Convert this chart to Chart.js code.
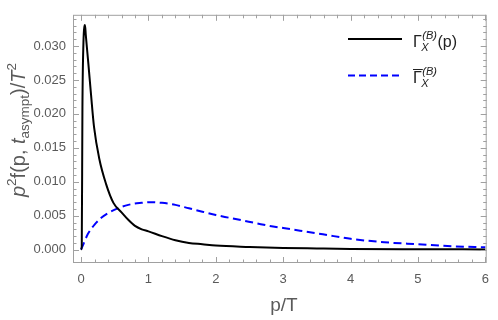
<!DOCTYPE html>
<html>
<head>
<meta charset="utf-8">
<script src="https://cdn.jsdelivr.net/npm/chart.js@4"></script>
<style>
  html, body { margin: 0; padding: 0; background: #fff; }
  #wrap { width: 498px; height: 320px; }
</style>
</head>
<body>
<div id="wrap"><canvas id="myChart"></canvas></div>
<script>
/* DATA */
var gammaP = [0, 0.01, 0.02, 0.035, 0.05, 0.058, 0.07, 0.108, 0.148, 0.192, 0.27, 0.37, 0.48, 0.6, 0.7, 0.8, 0.9, 1.0, 1.2, 1.4, 1.6, 1.8, 2.0, 2.5, 3.0, 3.5, 4.0, 5.0, 6.0];
var gammaVal = [0, 0.0005, 0.021, 0.0305, 0.0329, 0.0331, 0.0316, 0.0274, 0.0228, 0.0181, 0.0134, 0.0097, 0.0069, 0.0055, 0.0044, 0.0035, 0.0030, 0.0027, 0.0020, 0.0014, 0.0010, 0.0008, 0.0006, 0.0004, 0.00025, 0.00018, 0.00012, 0.00007, 0.00004];
var barP = [0, 0.05, 0.1, 0.2, 0.3, 0.4, 0.5, 0.6, 0.7, 0.8, 0.9, 1.0, 1.2, 1.4, 1.6, 1.8, 2.0, 2.2, 2.4, 2.6, 2.8, 3.0, 3.25, 3.5, 3.75, 4.0, 4.5, 5.0, 5.5, 6.0];
var barVal = [0, 0.0012, 0.0023, 0.0037, 0.0047, 0.0054, 0.0059, 0.0063, 0.0066, 0.0068, 0.0069, 0.0070, 0.0069, 0.0066, 0.0061, 0.0056, 0.0051, 0.0047, 0.0043, 0.0039, 0.0035, 0.0032, 0.0028, 0.0024, 0.0020, 0.0016, 0.0011, 0.0008, 0.0005, 0.00035];
var xTicks = [0, 1, 2, 3, 4, 5, 6];
var yTicks = [0, 0.005, 0.010, 0.015, 0.020, 0.025, 0.030];

function toPoints(xs, ys) {
	var pts = [];
	for (var i = 0; i < xs.length; i++) pts.push({x: xs[i], y: ys[i]});
	return pts;
}

var FONT = '"Liberation Sans", Arial, sans-serif';
var GRAY = '#5a5a5a';

/* FRAME, TICKS, TITLES, LEGEND */
var framePlugin = {
	id: 'frame',
	afterDraw: function(chart) {
		var ctx = chart.ctx;
		var a = chart.chartArea;
		var xs = chart.scales.x, ys = chart.scales.y;
		ctx.save();
		ctx.strokeStyle = '#a0a0a0';
		ctx.lineWidth = 1;
		ctx.strokeRect(a.left + 0.5, a.top + 0.5, a.right - a.left - 1, a.bottom - a.top - 1);
		ctx.beginPath();
		var v, px, len;
		for (var k = 0; k <= 30; k++) {
			v = k * 0.2;
			px = Math.round(xs.getPixelForValue(v)) + 0.5;
			len = (k % 5 === 0) ? 6 : 3.5;
			ctx.moveTo(px, a.bottom); ctx.lineTo(px, a.bottom - len);
			ctx.moveTo(px, a.top); ctx.lineTo(px, a.top + len);
		}
		for (var j = 0; j <= 34; j++) {
			v = j * 0.001;
			px = Math.round(ys.getPixelForValue(v)) + 0.5;
			len = (j % 5 === 0) ? 6 : 3.5;
			ctx.moveTo(a.left, px); ctx.lineTo(a.left + len, px);
			ctx.moveTo(a.right, px); ctx.lineTo(a.right - len, px);
		}
		ctx.stroke();

		// x title
		ctx.fillStyle = GRAY;
		ctx.font = '19px ' + FONT;
		ctx.textAlign = 'center';
		ctx.textBaseline = 'alphabetic';
		ctx.fillText('p/T', 284, 311);

		// y title (rich text)
		var parts = [
			{t: 'p', f: 'italic 20px ', dy: 0},
			{t: '2', f: '13.5px ', dy: -9},
			{t: 'f(p, ', f: '20px ', dy: 0},
			{t: 't', f: 'italic 20px ', dy: 0},
			{t: 'asympt', f: '13.5px ', dy: 4},
			{t: ')/', f: '20px ', dy: 0},
			{t: 'T', f: 'italic 20px ', dy: 0},
			{t: '2', f: '13.5px ', dy: -9}
		];
		var total = 0, i;
		for (i = 0; i < parts.length; i++) {
			ctx.font = parts[i].f + FONT;
			parts[i].w = ctx.measureText(parts[i].t).width;
			total += parts[i].w;
		}
		ctx.save();
		ctx.translate(25, 130);
		ctx.rotate(-Math.PI / 2);
		ctx.textAlign = 'left';
		var cx = -total / 2;
		for (i = 0; i < parts.length; i++) {
			ctx.font = parts[i].f + FONT;
			ctx.fillText(parts[i].t, cx, parts[i].dy);
			cx += parts[i].w;
		}
		ctx.restore();

		// legend
		ctx.lineWidth = 2;
		ctx.strokeStyle = '#000';
		ctx.setLineDash([]);
		ctx.beginPath(); ctx.moveTo(348, 39); ctx.lineTo(402, 39); ctx.stroke();
		ctx.strokeStyle = '#0000ff';
		ctx.setLineDash([7, 4]);
		ctx.beginPath(); ctx.moveTo(348, 75.5); ctx.lineTo(402, 75.5); ctx.stroke();
		ctx.setLineDash([]);

		ctx.fillStyle = '#222';
		ctx.textAlign = 'left';
		function gammaLabel(x, y, tail, bar) {
			ctx.font = '16px ' + FONT;
			ctx.fillText('\u0393', x, y);
			var gw = ctx.measureText('\u0393').width;
			if (bar) {
				ctx.lineWidth = 1;
				ctx.strokeStyle = '#222';
				ctx.beginPath(); ctx.moveTo(x, y - 13.5); ctx.lineTo(x + gw + 1, y - 13.5); ctx.stroke();
			}
			ctx.font = 'italic 11px ' + FONT;
			ctx.fillText('(B)', x + gw + 0.5, y - 8);
			var bw = ctx.measureText('(B)').width;
			ctx.fillText('X', x + gw - 0.5, y + 4);
			if (tail) {
				ctx.font = '16px ' + FONT;
				ctx.fillText(tail, x + gw + bw + 1, y);
			}
		}
		gammaLabel(413, 47, '(p)', false);
		gammaLabel(413, 83, '', true);
		ctx.restore();
	}
};

/* LINE CHART */
var ctx = document.getElementById("myChart").getContext("2d");
var myChart = new Chart(ctx, {
	type: 'line',
	data: {
		datasets: [{
			data: toPoints(gammaP, gammaVal),
			borderColor: '#000',
			borderWidth: 2,
			pointRadius: 0,
			cubicInterpolationMode: 'monotone',
			fill: false
		}, {
			data: toPoints(barP, barVal),
			borderColor: '#0000ff',
			borderWidth: 2,
			borderDash: [8, 4.5],
			pointRadius: 0,
			cubicInterpolationMode: 'monotone',
			fill: false
		}]
	},
	options: {
		responsive: true,
		maintainAspectRatio: false,
		animation: false,
		layout: { padding: { left: 0, right: 10, top: 2, bottom: 0 } },
		plugins: {
			legend: { display: false },
			tooltip: { enabled: false }
		},
		scales: {
			x: {
				type: 'linear',
				min: -0.12,
				max: 6.02,
				afterBuildTicks: function(s) { s.ticks = xTicks.map(function(v) { return {value: v}; }); },
				afterFit: function(s) { s.height = 57; },
				grid: { display: false, drawTicks: false },
				border: { display: false },
				ticks: {
					padding: 9,
					color: GRAY,
					font: { family: FONT, size: 13 },
					maxRotation: 0,
					callback: function(v) { return String(v); }
				}
			},
			y: {
				type: 'linear',
				min: -0.00196,
				max: 0.0346,
				afterBuildTicks: function(s) { s.ticks = yTicks.map(function(v) { return {value: v}; }); },
				afterFit: function(s) { s.width = 73; },
				grid: { display: false, drawTicks: false },
				border: { display: false },
				ticks: {
					padding: 7,
					color: GRAY,
					font: { family: FONT, size: 13 },
					callback: function(v) { return v.toFixed(3); }
				}
			}
		}
	},
	plugins: [framePlugin]
});
</script>
</body>
</html>
